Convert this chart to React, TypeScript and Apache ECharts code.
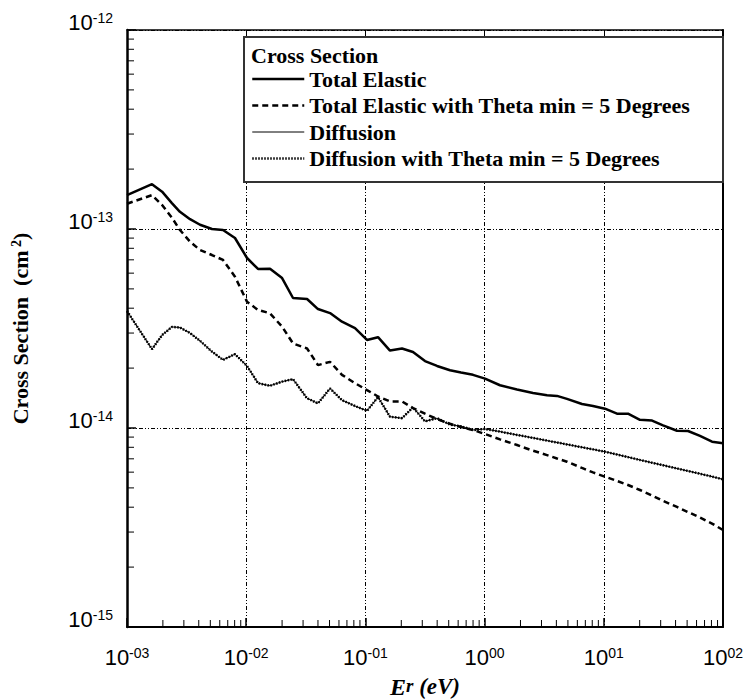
import React, { useEffect, useRef } from 'react';
import * as echarts from 'echarts';

// Reduced energy E_r (eV)
const energies = [
  0.001, 0.00162, 0.00197, 0.00238, 0.00278, 0.00338, 0.0041, 0.00516, 0.00639, 0.00805,
  0.01016, 0.01256, 0.01584, 0.02, 0.0247, 0.0324, 0.04, 0.0505, 0.0636, 0.0818,
  0.1031, 0.1276, 0.1608, 0.2028, 0.2508, 0.3162, 0.399, 0.5126, 0.634, 0.799,
  1.008, 1.346, 1.87, 2.547, 3.339, 4.05, 4.91, 6.56, 8.12, 10.23,
  12.9, 15.96, 20.1, 25.4, 31.4, 41.1, 50.9, 64.1, 80.9, 100,
];

// Cross sections (cm^2)
const totalElastic = [
  1.48e-13, 1.68e-13, 1.54e-13, 1.35e-13, 1.22e-13, 1.12e-13, 1.05e-13, 1.0e-13, 9.89e-14, 9.01e-14,
  7.15e-14, 6.3e-14, 6.32e-14, 5.67e-14, 4.5e-14, 4.45e-14, 3.96e-14, 3.78e-14, 3.42e-14, 3.18e-14,
  2.77e-14, 2.86e-14, 2.45e-14, 2.51e-14, 2.41e-14, 2.17e-14, 2.05e-14, 1.95e-14, 1.9e-14, 1.85e-14,
  1.77e-14, 1.64e-14, 1.56e-14, 1.5e-14, 1.46e-14, 1.45e-14, 1.4e-14, 1.32e-14, 1.29e-14, 1.25e-14,
  1.18e-14, 1.18e-14, 1.1e-14, 1.09e-14, 1.03e-14, 9.69e-15, 9.66e-15, 9.12e-15, 8.53e-15, 8.38e-15,
];

const totalElasticTheta = [
  1.34e-13, 1.48e-13, 1.32e-13, 1.14e-13, 9.89e-14, 8.63e-14, 7.84e-14, 7.4e-14, 6.99e-14, 5.76e-14,
  4.31e-14, 3.92e-14, 3.77e-14, 3.23e-14, 2.66e-14, 2.51e-14, 2.07e-14, 2.15e-14, 1.85e-14, 1.68e-14,
  1.55e-14, 1.44e-14, 1.36e-14, 1.36e-14, 1.26e-14, 1.18e-14, 1.11e-14, 1.05e-14, 1.01e-14, 9.77e-15,
  9.33e-15, 8.77e-15, 8.21e-15, 7.69e-15, 7.31e-15, 7.03e-15, 6.77e-15, 6.3e-15, 5.98e-15, 5.69e-15,
  5.42e-15, 5.17e-15, 4.88e-15, 4.58e-15, 4.3e-15, 4.01e-15, 3.78e-15, 3.55e-15, 3.31e-15, 3.07e-15,
];

const diffusion = [
  3.87e-14, 2.49e-14, 2.93e-14, 3.22e-14, 3.2e-14, 3.0e-14, 2.74e-14, 2.42e-14, 2.2e-14, 2.35e-14,
  2.05e-14, 1.68e-14, 1.63e-14, 1.71e-14, 1.76e-14, 1.41e-14, 1.33e-14, 1.58e-14, 1.38e-14, 1.29e-14,
  1.22e-14, 1.43e-14, 1.14e-14, 1.12e-14, 1.27e-14, 1.08e-14, 1.12e-14, 1.04e-14, 1.02e-14, 9.77e-15,
  9.89e-15, 9.59e-15, 9.23e-15, 8.92e-15, 8.64e-15, 8.46e-15, 8.27e-15, 8.0e-15, 7.81e-15, 7.6e-15,
  7.36e-15, 7.14e-15, 6.91e-15, 6.69e-15, 6.5e-15, 6.26e-15, 6.08e-15, 5.89e-15, 5.7e-15, 5.52e-15,
];

const diffusionTheta = [
  3.87e-14, 2.49e-14, 2.93e-14, 3.22e-14, 3.2e-14, 3.0e-14, 2.74e-14, 2.42e-14, 2.2e-14, 2.35e-14,
  2.05e-14, 1.68e-14, 1.63e-14, 1.71e-14, 1.76e-14, 1.41e-14, 1.33e-14, 1.58e-14, 1.38e-14, 1.29e-14,
  1.22e-14, 1.43e-14, 1.14e-14, 1.12e-14, 1.27e-14, 1.08e-14, 1.12e-14, 1.04e-14, 1.02e-14, 9.77e-15,
  9.89e-15, 9.59e-15, 9.23e-15, 8.92e-15, 8.64e-15, 8.46e-15, 8.27e-15, 8.0e-15, 7.81e-15, 7.6e-15,
  7.36e-15, 7.14e-15, 6.91e-15, 6.69e-15, 6.5e-15, 6.26e-15, 6.08e-15, 5.89e-15, 5.7e-15, 5.52e-15,
];

const seriesNames = [
  'Total Elastic',
  'Total Elastic with Theta min = 5 Degrees',
  'Diffusion',
  'Diffusion with Theta min = 5 Degrees',
];

const xMin = 1e-3;
const xMax = 1e2;
const yMin = 1e-15;
const yMax = 1e-12;
const xDecades = [1e-3, 1e-2, 1e-1, 1, 10];
const yDecades = [1e-15, 1e-14, 1e-13];
const minorSteps = [2, 3, 4, 5, 6, 7, 8, 9];

const SANS = 'Arial, "Liberation Sans", sans-serif';
const SERIF = '"Times New Roman", "Liberation Serif", serif';

const expLabel = (v: number) => {
  const e = Math.round(Math.log10(v));
  const s = (e < 0 ? '-' : '') + String(Math.abs(e)).padStart(2, '0');
  return `{b|10}{s|${s}}`;
};

const tickRich = {
  b: { fontFamily: SANS, fontSize: 22, lineHeight: 22, verticalAlign: 'bottom', padding: [8, 0, 0, 0], color: '#000' },
  s: { fontFamily: SANS, fontSize: 14, lineHeight: 14, verticalAlign: 'top', color: '#000' },
};

const gridLine = { color: '#000', width: 1, type: [4, 2, 1, 2, 1, 2] as number[] };

const lineStyles = [
  { color: '#000', width: 2.5, type: 'solid' as any },
  { color: '#000', width: 2.5, type: [6, 4] as any },
  { color: '#000', width: 1, type: 'solid' as any },
  { color: '#000', width: 2.5, type: [1.5, 1.5] as any },
];

export default function App() {
  const ref = useRef<HTMLDivElement>(null);
  useEffect(() => {
    document.body.style.margin = '0';
    if (!ref.current) return;
    const chart = echarts.init(ref.current, null, { renderer: 'svg' });

    const xMinorTicks: number[][] = [];
    xDecades.forEach((d) => minorSteps.forEach((m) => xMinorTicks.push([d * m, yMin])));
    const yMinorTicks: number[][] = [];
    yDecades.forEach((d) => minorSteps.forEach((m) => yMinorTicks.push([xMin, d * m])));

    const mk = (arr: number[]) => energies.map((e, i) => [e, arr[i]]);
    const dataSets = [totalElastic, totalElasticTheta, diffusion, diffusionTheta];

    chart.setOption({
      animation: false,
      backgroundColor: '#fff',
      grid: { left: 127, top: 30, right: 25, bottom: 73, containLabel: false, outerBoundsMode: 'none' },
      legend: {
        data: seriesNames.map((n, i) => ({ name: n, lineStyle: lineStyles[i] })),
        orient: 'vertical',
        left: 251,
        top: 68,
        padding: 0,
        itemWidth: 52,
        itemHeight: 14,
        itemGap: 4.5,
        z: 20,
        itemStyle: { opacity: 0 },
        textStyle: { fontFamily: SERIF, fontWeight: 'bold', fontSize: 22, lineHeight: 22, color: '#000' },
      },
      graphic: [
        {
          type: 'rect',
          z: 10,
          shape: { x: 244, y: 37, width: 479, height: 145 },
          style: { fill: '#fff', stroke: '#333', lineWidth: 2 },
        },
        {
          type: 'text',
          z: 11,
          x: 251,
          y: 55,
          style: {
            text: 'Cross Section',
            font: `bold 22px ${SERIF}`,
            fill: '#000',
            verticalAlign: 'middle',
          },
        },
      ],
      xAxis: [
        {
          type: 'log',
          logBase: 10,
          min: xMin,
          max: xMax,
          splitNumber: 5,
          position: 'bottom',
          axisLine: { lineStyle: { color: '#000', width: 2 } },
          axisTick: { inside: true, length: 9, lineStyle: { color: '#000', width: 1.5 } },
          axisLabel: { formatter: expLabel, rich: tickRich, margin: 19, showMinLabel: true, showMaxLabel: true },
          splitLine: { show: true, lineStyle: gridLine },
          name: '{e|E}{r|r}{t| (eV)}',
          nameLocation: 'middle',
          nameGap: 48,
          nameMoveOverlap: false,
          nameTextStyle: {
            rich: {
              e: { fontFamily: SERIF, fontStyle: 'italic', fontWeight: 'bold', fontSize: 24, lineHeight: 20, verticalAlign: 'top', color: '#000' },
              r: { fontFamily: SERIF, fontStyle: 'italic', fontWeight: 'bold', fontSize: 19, lineHeight: 12, verticalAlign: 'bottom', padding: [10, 0, 0, 0], color: '#000' },
              t: { fontFamily: SERIF, fontStyle: 'italic', fontWeight: 'bold', fontSize: 23, lineHeight: 20, verticalAlign: 'top', color: '#000' },
            },
          },
        },
        {
          type: 'log',
          logBase: 10,
          min: xMin,
          max: xMax,
          splitNumber: 5,
          position: 'top',
          axisLine: { lineStyle: { color: '#000', width: 1.5 } },
          axisTick: { inside: true, length: 6, lineStyle: { color: '#000', width: 1 } },
          axisLabel: { show: false },
          splitLine: { show: false },
        },
      ],
      yAxis: [
        {
          type: 'log',
          logBase: 10,
          min: yMin,
          max: yMax,
          splitNumber: 3,
          position: 'left',
          axisLine: { lineStyle: { color: '#000', width: 2.5 } },
          axisTick: { inside: true, length: 9, lineStyle: { color: '#000', width: 1.5 } },
          axisLabel: {
            formatter: expLabel,
            rich: tickRich,
            margin: 14,
            padding: [0, 0, 16, 0],
            showMinLabel: true,
            showMaxLabel: true,
          },
          splitLine: { show: true, lineStyle: gridLine },
          name: '{a|Cross Section  (cm}{s| 2}{a|)}',
          nameLocation: 'middle',
          nameGap: 96,
          nameTextStyle: {
            rich: {
              a: { fontFamily: SERIF, fontWeight: 'bold', fontSize: 22, lineHeight: 22, verticalAlign: 'bottom', padding: [6, 0, 0, 0], color: '#000' },
              s: { fontFamily: SERIF, fontWeight: 'bold', fontSize: 14, lineHeight: 14, verticalAlign: 'top', color: '#000' },
            },
          },
        },
        {
          type: 'log',
          logBase: 10,
          min: yMin,
          max: yMax,
          splitNumber: 3,
          position: 'right',
          axisLine: { lineStyle: { color: '#000', width: 2 } },
          axisTick: { show: false },
          axisLabel: { show: false },
          splitLine: { show: false },
        },
      ],
      series: [
        ...seriesNames.map((n, i) => ({
          name: n,
          type: 'line',
          data: mk(dataSets[i]),
          symbol: 'none',
          z: i === 2 ? 3 : 4,
          itemStyle: { color: '#000' },
          lineStyle: lineStyles[i],
        })),
        {
          type: 'custom',
          name: 'xMinor',
          data: xMinorTicks,
          clip: false,
          silent: true,
          z: 5,
          encode: { x: 0, y: 1 },
          renderItem: (_p: any, api: any) => {
            const pt = api.coord([api.value(0), api.value(1)]);
            return {
              type: 'line',
              shape: { x1: pt[0], y1: pt[1], x2: pt[0], y2: pt[1] - 7 },
              style: { stroke: '#000', lineWidth: 1 },
            };
          },
        },
        {
          type: 'custom',
          name: 'yMinor',
          data: yMinorTicks,
          clip: false,
          silent: true,
          z: 5,
          encode: { x: 0, y: 1 },
          renderItem: (_p: any, api: any) => {
            const pt = api.coord([api.value(0), api.value(1)]);
            return {
              type: 'line',
              shape: { x1: pt[0], y1: pt[1], x2: pt[0] + 7, y2: pt[1] },
              style: { stroke: '#000', lineWidth: 1 },
            };
          },
        },
      ],
    });
    return () => chart.dispose();
  }, []);
  return <div ref={ref} style={{ width: 748, height: 700 }} />;
}
